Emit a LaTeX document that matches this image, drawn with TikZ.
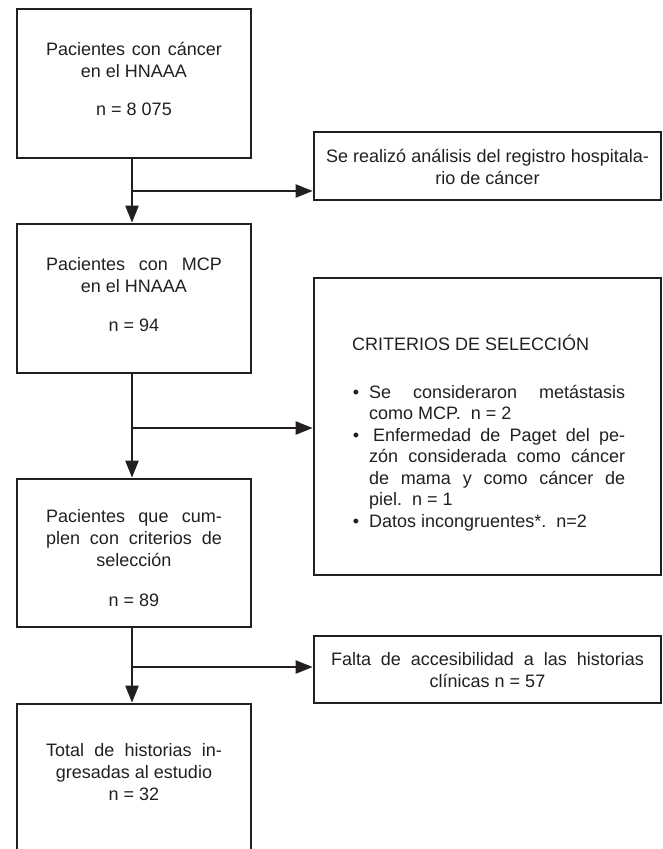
\documentclass[tikz,border=0pt]{standalone}
\usepackage{fontspec}
\setmainfont{Liberation Sans}
\usetikzlibrary{arrows.meta}
\definecolor{ink}{HTML}{231F20}
\begin{document}
\begin{tikzpicture}[x=1pt,y=-1pt,
  box/.style={draw=ink, line width=2.6pt, inner sep=0pt},
  txt/.style={inner sep=0pt, anchor=base, text=ink, font=\fontsize{18}{22}\selectfont},
  ltxt/.style={txt, anchor=base west},
  arr/.style={draw=ink, line width=2pt, -{Triangle[length=17pt,width=13pt]}}]
\useasboundingbox (0,0) rectangle (663,849);
\clip (0,0) rectangle (663,849);
% boxes
\node[box, minimum width=234pt, minimum height=149pt] (b1) at (134,83.5) {};
\node[box, minimum width=347pt, minimum height=68pt]  (r1) at (487.5,166) {};
\node[box, minimum width=234pt, minimum height=149pt] (b2) at (134,298.5) {};
\node[box, minimum width=347pt, minimum height=297pt] (r2) at (487.5,426.5) {};
\node[box, minimum width=234pt, minimum height=148pt] (b3) at (134,553) {};
\node[box, minimum width=347pt, minimum height=67pt]  (r3) at (487.5,669.5) {};
\node[box, minimum width=234pt, minimum height=149pt] (b4) at (134,778.5) {};
% texts box 1
\node[txt] (t1a) at (134,55)  {\makebox[176pt][s]{Pacientes con cáncer}};
\node[txt] (t1b) at (134,77)  {en el HNAAA};
\node[txt] (t1c) at (134,115) {n = 8 075};
% right box 1
\node[txt] (s1a) at (487.5,162) {\makebox[323pt][s]{Se realizó análisis del registro hospitala-}};
\node[txt] (s1b) at (487.5,184) {rio de cáncer};
% box 2
\node[txt] (t2a) at (134,270) {\makebox[176pt][s]{Pacientes con MCP}};
\node[txt] (t2b) at (134,292) {en el HNAAA};
\node[txt] (t2c) at (134,331) {n = 94};
% criteria box
\node[ltxt] (c0) at (352,350) {CRITERIOS DE SELECCIÓN};
\node[txt] (d1) at (356,398) {•};
\node[txt] (d2) at (356,441) {•};
\node[txt] (d3) at (356,527) {•};
\node[ltxt] (c1) at (369,398)   {\makebox[256pt][s]{Se consideraron metástasis}};
\node[ltxt] (c2) at (369,419.5) {como MCP.\ \ n = 2};
\node[ltxt] (c3) at (369,441)   {\makebox[256pt][s]{\hspace*{4pt}Enfermedad de Paget del pe-}};
\node[ltxt] (c4) at (369,462.5) {\makebox[256pt][s]{zón considerada como cáncer}};
\node[ltxt] (c5) at (369,484)   {\makebox[256pt][s]{de mama y como cáncer de}};
\node[ltxt] (c6) at (369,505.5) {piel.\ \ n = 1};
\node[ltxt] (c7) at (369,527)   {Datos incongruentes*.\ \ n=2};
% box 3
\node[txt] (t3a) at (134,522) {\makebox[176pt][s]{Pacientes que cum-}};
\node[txt] (t3b) at (134,544) {\makebox[176pt][s]{plen con criterios de}};
\node[txt] (t3c) at (134,566) {selección};
\node[txt] (t3d) at (134,606) {n = 89};
% right box 3
\node[txt] (s3a) at (487.5,665) {\makebox[313pt][s]{Falta de accesibilidad a las historias}};
\node[txt] (s3b) at (487.5,687) {clínicas n = 57};
% box 4
\node[txt] (t4a) at (134,756) {\makebox[176pt][s]{Total de historias in-}};
\node[txt] (t4b) at (134,778) {gresadas al estudio};
\node[txt] (t4c) at (134,800) {n = 32};
% connectors
\coordinate (j1) at (132,191);
\coordinate (j2) at (132,428);
\coordinate (j3) at (132,667);
\draw[arr] (j1 |- b1.south) -- (j1 |- b2.north);
\draw[arr] (j2 |- b2.south) -- (j2 |- b3.north);
\draw[arr] (j3 |- b3.south) -- (j3 |- b4.north);
\draw[arr] (j1) -- (j1 -| r1.west);
\draw[arr] (j2) -- (j2 -| r2.west);
\draw[arr] (j3) -- (j3 -| r3.west);
\end{tikzpicture}
\end{document}
